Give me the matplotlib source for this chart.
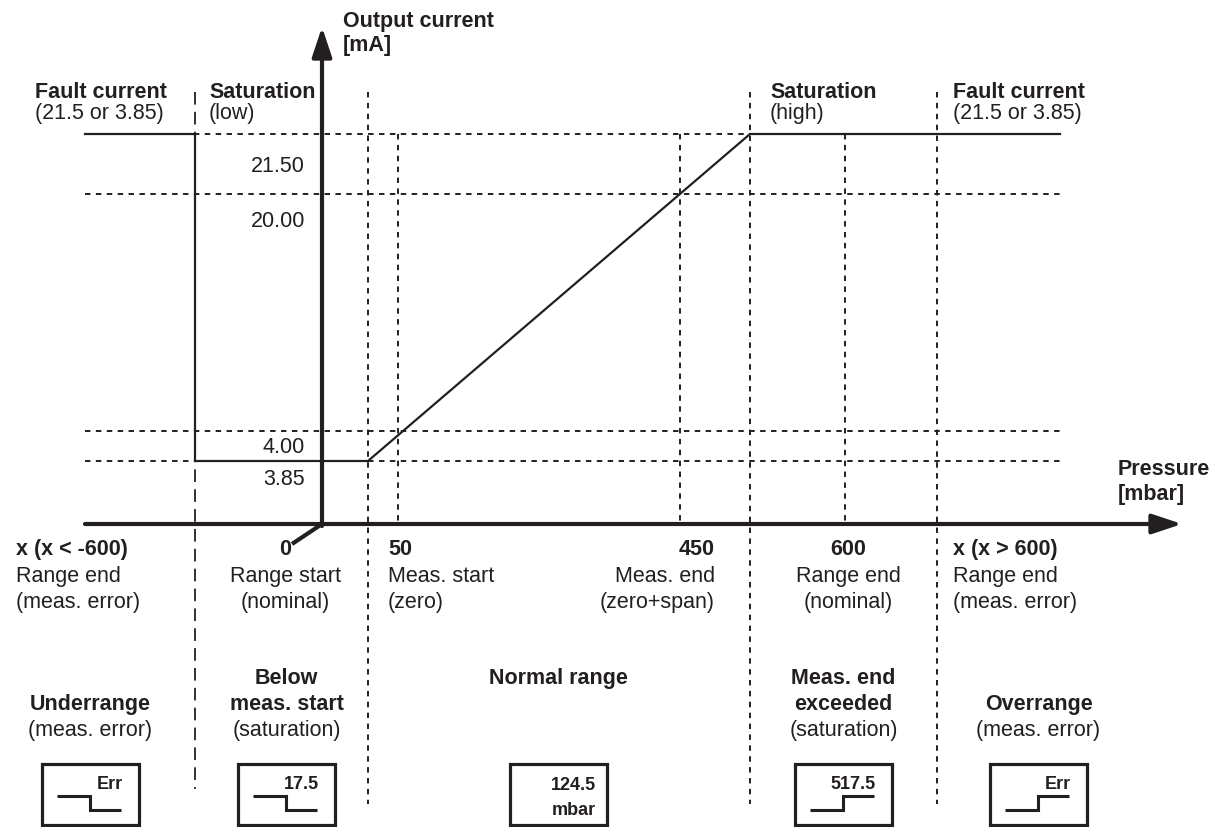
import numpy as np
import matplotlib
matplotlib.use('Agg')
import matplotlib.pyplot as plt
from matplotlib.patches import Rectangle

plt.rcParams['font.family'] = ['Liberation Sans', 'DejaVu Sans']
INK = '#231f20'

# ---------------- data ----------------
current_levels = [21.5, 20.0, 4.0, 3.85]
current_labels = ['21.50', '20.00', '4.00', '3.85']

# characteristic curve (pressure in mbar, output in mA)
curve_pressure = [-700, -600, -600, 46.25, 487.5, 800]
curve_current = [21.5, 21.5, 3.85, 3.85, 21.5, 21.5]

# boundaries of regions (mbar)
full_lines = [46.25, 487.5, 700]     # dotted, full height
short_lines = [50, 450, 600]         # dotted, between axis and 21.5 mA
dashed_lines = [-600]                # dashed, full height

tick_values = ['x (x < -600)', '0', '50', '450', '600', 'x (x > 600)']
tick_desc1 = ['Range end', 'Range start', 'Meas. start', 'Meas. end', 'Range end', 'Range end']
tick_desc2 = ['(meas. error)', '(nominal)', '(zero)', '(zero+span)', '(nominal)', '(meas. error)']

top_titles = ['Fault current', 'Saturation', 'Saturation', 'Fault current']
top_notes = ['(21.5 or 3.85)', '(low)', '(high)', '(21.5 or 3.85)']

regions = ['Underrange', 'Below\nmeas. start', 'Normal range', 'Meas. end\nexceeded', 'Overrange']
region_notes = ['(meas. error)', '(saturation)', '', '(saturation)', '(meas. error)']
display_text = ['Err', '17.5', '124.5\nmbar', '517.5', 'Err']
display_step = ['down', 'down', None, 'up', 'up']

# ---------------- layout (schematic, non-linear axes) ----------------
P_ANCHOR = [-700, -600, 0, 46.25, 50, 450, 487.5, 600, 700, 800]
X_ANCHOR = [85, 195, 322, 368, 398, 680, 750, 845, 937, 1060]
I_ANCHOR = [0, 3.85, 4.0, 20.0, 21.5]
Y_ANCHOR = [525, 462, 432, 195, 135]


def px(p):
    return np.interp(p, P_ANCHOR, X_ANCHOR)


def py(i):
    return np.interp(i, I_ANCHOR, Y_ANCHOR)


LINE_TOP, LINE_BOTTOM = 93, 805
DASH_BOTTOM = 790
FS = 15.5
BOX_FS = 13

fig = plt.figure(figsize=(12.25, 8.28), dpi=100)
ax = fig.add_axes([0, 0, 1, 1])
ax.set_xlim(0, 1225)
ax.set_ylim(828, 0)
ax.axis('off')

dot = dict(color=INK, lw=1.4, linestyle=(0, (2.8, 2.8)))
# horizontal level lines
for lvl in current_levels:
    ax.plot([px(-700), px(800)], [py(lvl), py(lvl)], **dot)
# vertical lines
for p in full_lines:
    ax.plot([px(p), px(p)], [LINE_TOP, LINE_BOTTOM], **dot)
for p in short_lines:
    ax.plot([px(p), px(p)], [py(21.5), py(0)], **dot)
for p in dashed_lines:
    ax.plot([px(p), px(p)], [LINE_TOP, DASH_BOTTOM], color=INK, lw=1.3,
            linestyle=(0, (7, 4)))

# characteristic curve
ax.plot(px(np.array(curve_pressure)), py(np.array(curve_current)),
        color=INK, lw=1.6, solid_joinstyle='miter')

# axes with arrows
ax.annotate('', xy=(1182, py(0)), xytext=(px(-700), py(0)),
            arrowprops=dict(arrowstyle='-|>,head_length=0.6,head_width=0.2',
                            mutation_scale=30, lw=3, color=INK,
                            shrinkA=0, shrinkB=0))
ax.annotate('', xy=(px(0), 28), xytext=(px(0), py(0) + 2),
            arrowprops=dict(arrowstyle='-|>,head_length=0.6,head_width=0.2',
                            mutation_scale=30, lw=3, color=INK,
                            shrinkA=0, shrinkB=0))
ax.plot([px(0), px(0) - 30], [py(0), py(0) + 20], color=INK, lw=3,
        solid_capstyle='butt')

# axis titles
ax.text(343, 22, 'Output current', fontsize=FS, fontweight='bold', color=INK,
        ha='left', va='center')
ax.text(343, 46, '[mA]', fontsize=FS, fontweight='bold', color=INK,
        ha='left', va='center')
ax.text(1118, 470, 'Pressure', fontsize=FS, fontweight='bold', color=INK,
        ha='left', va='center')
ax.text(1118, 495, '[mbar]', fontsize=FS, fontweight='bold', color=INK,
        ha='left', va='center')

# level labels
label_y = [167, 222, 448, 480]
for lab, y in zip(current_labels, label_y):
    ax.text(305, y, lab, fontsize=FS, color=INK, ha='right', va='center')

# top region titles
top_x = [35, 209, 770, 953]
for x, t, n in zip(top_x, top_titles, top_notes):
    ax.text(x, 92, t, fontsize=FS, fontweight='bold', color=INK, ha='left', va='center')
    ax.text(x, 114, n, fontsize=FS, color=INK, ha='left', va='center')

# pressure tick labels
tick_x = [16, 285, 388, 715, 848, 953]
tick_ha = ['left', 'center', 'left', 'right', 'center', 'left']
for x, ha, v, d1, d2 in zip(tick_x, tick_ha, tick_values, tick_desc1, tick_desc2):
    ax.text(x, 550, v, fontsize=FS, fontweight='bold', color=INK, ha=ha, va='center')
    ax.text(x, 577, d1, fontsize=FS, color=INK, ha=ha, va='center')
    ax.text(x, 603, d2, fontsize=FS, color=INK, ha=ha, va='center')

# region descriptions and display icons
box_left = [42, 238, 510, 795, 990]
BOX_W, BOX_TOP, BOX_BOTTOM = 97, 765, 826
for bl, r, n, dt, st in zip(box_left, regions, region_notes, display_text, display_step):
    cx = bl + BOX_W / 2
    lines = r.split('\n')
    n_lines = len(lines) + (1 if n else 0)
    y0 = 731 - 26 * (n_lines - 1) if n else 679
    for k, ln in enumerate(lines):
        ax.text(cx, y0 + 26 * k, ln, fontsize=FS, fontweight='bold', color=INK,
                ha='center', va='center')
    if n:
        ax.text(cx, 731, n, fontsize=FS, color=INK, ha='center', va='center')
    ax.add_patch(Rectangle((bl, BOX_TOP), BOX_W, BOX_BOTTOM - BOX_TOP,
                           fill=False, ec=INK, lw=2.3))
    tl = dt.split('\n')
    tkw = dict(fontsize=BOX_FS, fontweight='bold', color=INK, ha='right', va='center')
    if len(tl) == 1:
        ax.text(bl + BOX_W - 16, 785, tl[0], **tkw)
    else:
        ax.text(bl + BOX_W - 11, 786, tl[0], **tkw)
        ax.text(bl + BOX_W - 11, 811, tl[1], **tkw)
    if st is not None:
        hi, lo = 797, 811
        ya, yb = (hi, lo) if st == 'down' else (lo, hi)
        ax.plot([bl + 15, bl + 48, bl + 48, bl + 79], [ya, ya, yb, yb],
                color=INK, lw=2.2, solid_joinstyle='miter', solid_capstyle='butt')

fig.savefig('out.png', dpi=100)
